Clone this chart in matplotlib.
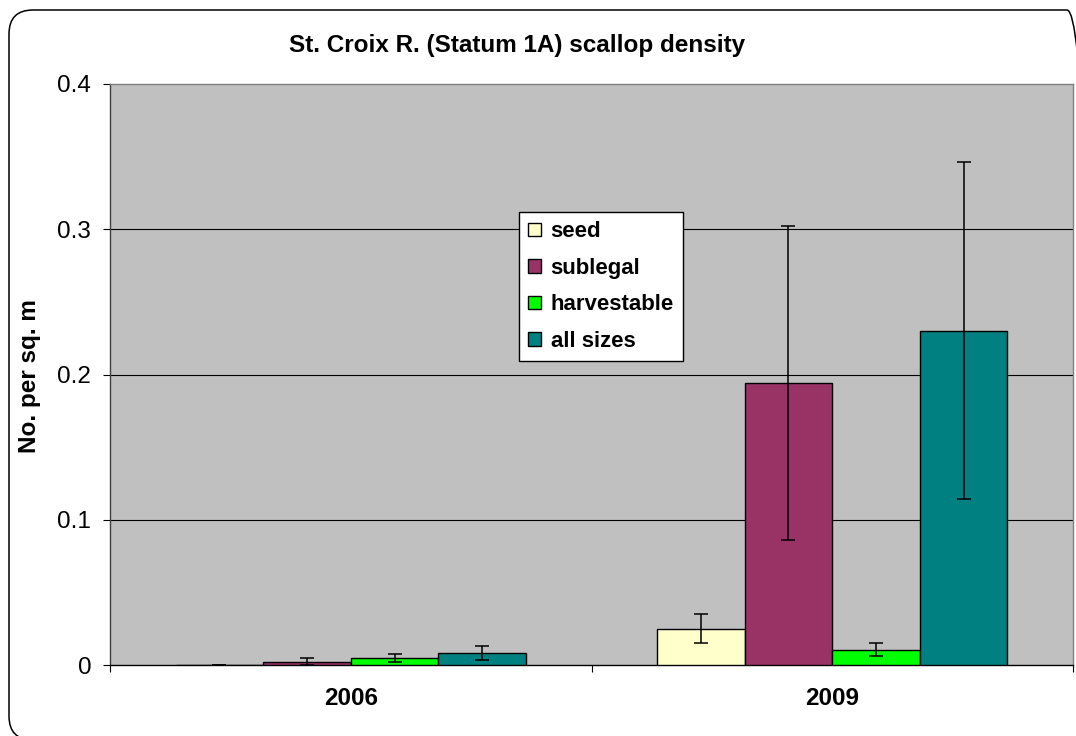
import matplotlib
matplotlib.use("Agg")
import matplotlib.pyplot as plt
from matplotlib.patches import FancyBboxPatch
import numpy as np

# Data
years = ["2006", "2009"]
series = ["seed", "sublegal", "harvestable", "all sizes"]
seed = [0.0, 0.025]
seed_err = [0.0003, 0.0098]
sublegal = [0.0024, 0.194]
sublegal_err = [0.0024, 0.108]
harvestable = [0.0047, 0.0104]
harvestable_err = [0.0027, 0.0045]
all_sizes = [0.0084, 0.230]
all_sizes_err = [0.005, 0.116]
yticks = [0, 0.1, 0.2, 0.3, 0.4]
ytick_labels = ["0", "0.1", "0.2", "0.3", "0.4"]

colors = ["#FFFFCC", "#993366", "#00FF00", "#008080"]

plt.rcParams["font.family"] = ["Liberation Sans", "DejaVu Sans"]

fig = plt.figure(figsize=(10.76, 7.36), dpi=100)
ax = fig.add_axes([110 / 1076, 71 / 736, 963 / 1076, 581 / 736])
ax.set_facecolor("#C0C0C0")

# rounded chart border
frame = FancyBboxPatch((0.09, -0.04), 10.82, 7.30,
                       boxstyle="round,pad=0,rounding_size=0.24",
                       transform=fig.dpi_scale_trans, facecolor="none",
                       edgecolor="black", linewidth=1.1)
fig.patches.append(frame)

x = np.arange(len(years))
w = 1 / 5.5
values = [seed, sublegal, harvestable, all_sizes]
errors = [seed_err, sublegal_err, harvestable_err, all_sizes_err]
for i, (vals, errs) in enumerate(zip(values, errors)):
    ax.bar(x + (i - 1.5) * w, vals, w, color=colors[i], edgecolor="black",
           linewidth=1.0, label=series[i], zorder=3,
           yerr=errs, capsize=4.7,
           error_kw=dict(ecolor="black", elinewidth=1.1, capthick=1.1, zorder=4))

ax.set_xlim(-0.5, 1.5)
ax.set_ylim(0, 0.4)
ax.set_yticks(yticks)
ax.set_yticklabels(ytick_labels)
ax.set_xticks(x)
ax.set_xticklabels(years, fontweight="bold", fontsize=17.5)
ax.set_xticks([-0.5, 0.5, 1.5], minor=True)
ax.tick_params(axis="x", which="major", length=0, pad=16)
ax.tick_params(axis="x", which="minor", length=5, width=0.8, direction="out")
ax.tick_params(axis="y", length=5, width=0.8, direction="out", pad=8.5,
               labelsize=17.5)

for y in yticks[1:-1]:
    ax.axhline(y, color="black", linewidth=0.8, zorder=1)

ax.spines["top"].set_color("#808080")
ax.spines["right"].set_color("#808080")
ax.spines["left"].set_color("#404040")
ax.spines["bottom"].set_color("black")
for s in ax.spines.values():
    s.set_linewidth(1.0)

fig.text(517 / 1076, 1 - 52 / 736, "St. Croix R. (Statum 1A) scallop density",
         ha="center", va="baseline", fontsize=17.5, fontweight="bold")
fig.text(30 / 1076, 1 - 376 / 736, "No. per sq. m", rotation=90,
         ha="center", va="center", fontsize=17.5, fontweight="bold")

leg = ax.legend(loc="upper left", bbox_to_anchor=((519 - 110) / 963, (665 - 212) / 581),
                borderaxespad=0, fancybox=False, shadow=False, framealpha=1,
                edgecolor="black", prop=dict(weight="bold", size=16),
                handlelength=0.55, handleheight=0.55, handletextpad=0.45,
                labelspacing=0.7, borderpad=0.42)
leg.get_frame().set_linewidth(1.0)
leg.set_zorder(5)

fig.savefig("out.png", dpi=100)
